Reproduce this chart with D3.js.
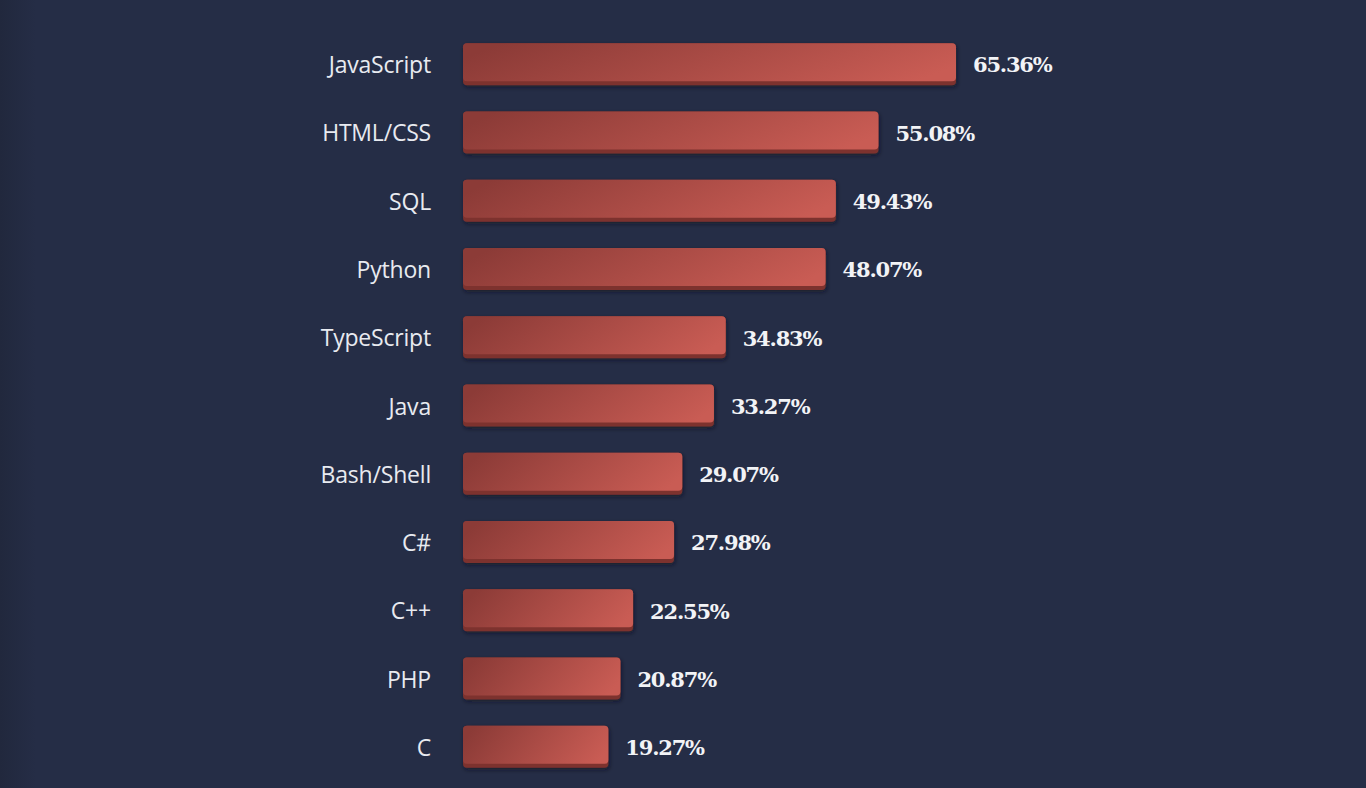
<!DOCTYPE html>
<html>
<head>
<meta charset="utf-8">
<script src="https://cdn.jsdelivr.net/npm/d3@7"></script>
<style>
  html, body { margin: 0; padding: 0; background: #252d46; overflow: hidden; }
  #vis { width: 1366px; height: 788px; }
</style>
</head>
<body>
<div id="vis"></div>
<script>
// languages and share of respondents (%)
const languages = ['JavaScript', 'HTML/CSS', 'SQL', 'Python', 'TypeScript', 'Java',
  'Bash/Shell', 'C#', 'C++', 'PHP', 'C']
const shares = [65.36, 55.08, 49.43, 48.07, 34.83, 33.27, 29.07, 27.98, 22.55, 20.87, 19.27]

const dataset = languages.map((name, i) => ({ name: name, value: shares[i] }))

const width = 1366
const height = 788

const svg = d3.select('#vis')
  .append('svg')
  .attr('width', width)
  .attr('height', height)

const defs = svg.append('defs')

// slightly darker strip along the left edge
const bgGrad = defs.append('linearGradient').attr('id', 'bg-grad')
bgGrad.append('stop').attr('offset', '0').attr('stop-color', '#21283d')
bgGrad.append('stop').attr('offset', '1').attr('stop-color', '#252d46')

const barGrad = defs.append('linearGradient')
  .attr('id', 'bar-grad')
  .attr('x1', '0').attr('y1', '0.4').attr('x2', '1').attr('y2', '0.6')
barGrad.append('stop').attr('offset', '0').attr('stop-color', '#8c3b37')
barGrad.append('stop').attr('offset', '1').attr('stop-color', '#c95c54')

const shadow = defs.append('filter').attr('id', 'shadow')
  .attr('x', '-5%').attr('y', '-20%').attr('width', '110%').attr('height', '150%')
shadow.append('feDropShadow')
  .attr('dx', 1).attr('dy', 2).attr('stdDeviation', 2)
  .attr('flood-color', '#0d1120').attr('flood-opacity', 0.6)

svg.append('rect').attr('width', width).attr('height', height).attr('fill', '#252d46')
svg.append('rect').attr('width', 36).attr('height', height).attr('fill', 'url(#bg-grad)')

const x = d3.scaleLinear()
  .domain([0, 65.36])
  .range([463, 956])

const y = d3.scaleBand()
  .domain(languages)
  .range([30, 781])
  .paddingInner(0.385)
  .paddingOuter(0.1925)

const rows = svg.selectAll('.row')
  .data(dataset)
  .enter()
  .append('g')
  .attr('class', 'row')
  .attr('transform', d => `translate(0,${y(d.name)})`)

const bh = y.bandwidth()

// bottom edge (gives the bar a bit of depth)
rows.append('rect')
  .attr('x', x(0))
  .attr('y', 0)
  .attr('width', d => x(d.value) - x(0))
  .attr('height', bh)
  .attr('rx', 4)
  .attr('fill', '#7d322e')
  .attr('filter', 'url(#shadow)')

rows.append('rect')
  .attr('x', x(0))
  .attr('y', 0)
  .attr('width', d => x(d.value) - x(0))
  .attr('height', bh - 4)
  .attr('rx', 4)
  .attr('fill', 'url(#bar-grad)')

rows.append('text')
  .attr('x', 431)
  .attr('y', bh / 2 + 1)
  .attr('dy', '0.35em')
  .attr('text-anchor', 'end')
  .attr('fill', '#e8eaf0')
  .style('font-family', '"Source Sans Pro", "Open Sans", "Noto Sans", sans-serif')
  .style('font-size', '23px')
  .style('letter-spacing', '-0.2px')
  .text(d => d.name)

rows.append('text')
  .attr('x', d => x(d.value) + 17)
  .attr('y', bh / 2 + 1)
  .attr('dy', '0.35em')
  .attr('fill', '#f2f3f6')
  .style('font-family', '"Roboto Slab", "DejaVu Serif", serif')
  .style('font-weight', 'bold')
  .style('font-size', '21px')
  .style('letter-spacing', '-1.2px')
  .text(d => d3.format('.2f')(d.value) + '%')
</script>
</body>
</html>
